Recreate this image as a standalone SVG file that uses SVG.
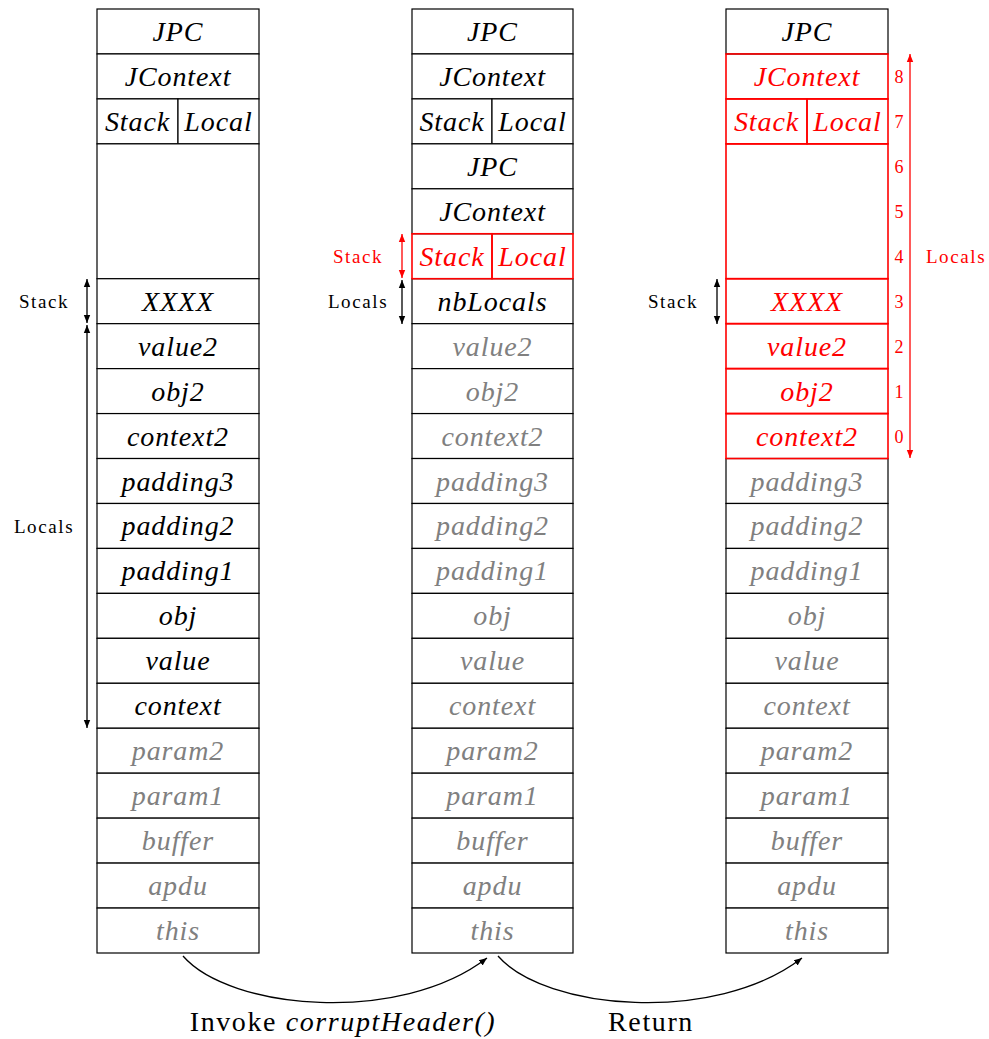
<svg xmlns="http://www.w3.org/2000/svg" width="989" height="1039" viewBox="0 0 989 1039" font-family="Liberation Serif, serif">
<defs>
<style>
.c{fill:#fff;stroke:#000;stroke-width:1.2}
.cr{fill:none;stroke:#f00;stroke-width:1.6}
.t{font-style:italic;font-size:28px;text-anchor:middle;letter-spacing:0.9px}
.k{fill:#000}.g{fill:#808080}.r{fill:#f00}
.lab{font-size:19px;text-anchor:middle;letter-spacing:1.6px}
.ak{stroke:#000;stroke-width:1.3;fill:none}
.ar{stroke:#f00;stroke-width:1.3;fill:none}
.cap{font-size:28px;text-anchor:middle;letter-spacing:1.6px;fill:#000}
</style>
<marker id="hk" viewBox="0 0 10 10" refX="10" refY="5" markerWidth="8" markerHeight="8" markerUnits="userSpaceOnUse" orient="auto-start-reverse"><path d="M0,1 L10,5 L0,9 z" fill="#000"/></marker>
<marker id="hr" viewBox="0 0 10 10" refX="10" refY="5" markerWidth="8" markerHeight="8" markerUnits="userSpaceOnUse" orient="auto-start-reverse"><path d="M0,1 L10,5 L0,9 z" fill="#f00"/></marker>
</defs>
<rect width="989" height="1039" fill="#fff"/>

<!-- Column 1 -->
<g id="col1" font-family="Liberation Serif, serif">
<g id="c1-jpc"><rect class="c" x="97" y="9" width="162" height="44.95"/><text class="t k" x="178" y="41">JPC</text></g>
<g id="c1-jcontext"><rect class="c" x="97" y="53.95" width="162" height="44.95"/><text class="t k" x="178" y="85.95">JContext</text></g>
<g id="c1-stack"><rect class="c" x="97" y="98.9" width="81" height="44.95"/><text class="t k" x="137.5" y="130.9">Stack</text></g>
<g id="c1-local"><rect class="c" x="178" y="98.9" width="81" height="44.95"/><text class="t k" x="218.5" y="130.9">Local</text></g>
<g id="c1-empty"><rect class="c" x="97" y="143.86" width="162" height="134.85"/></g>
<g id="c1-xxxx"><rect class="c" x="97" y="278.71" width="162" height="44.95"/><text class="t k" x="178" y="310.71">XXXX</text></g>
<g id="c1-value2"><rect class="c" x="97" y="323.67" width="162" height="44.95"/><text class="t k" x="178" y="355.67">value2</text></g>
<g id="c1-obj2"><rect class="c" x="97" y="368.62" width="162" height="44.95"/><text class="t k" x="178" y="400.62">obj2</text></g>
<g id="c1-context2"><rect class="c" x="97" y="413.57" width="162" height="44.95"/><text class="t k" x="178" y="445.57">context2</text></g>
<g id="c1-padding3"><rect class="c" x="97" y="458.52" width="162" height="44.95"/><text class="t k" x="178" y="490.52">padding3</text></g>
<g id="c1-padding2"><rect class="c" x="97" y="503.48" width="162" height="44.95"/><text class="t k" x="178" y="535.48">padding2</text></g>
<g id="c1-padding1"><rect class="c" x="97" y="548.43" width="162" height="44.95"/><text class="t k" x="178" y="580.43">padding1</text></g>
<g id="c1-obj"><rect class="c" x="97" y="593.38" width="162" height="44.95"/><text class="t k" x="178" y="625.38">obj</text></g>
<g id="c1-value"><rect class="c" x="97" y="638.33" width="162" height="44.95"/><text class="t k" x="178" y="670.33">value</text></g>
<g id="c1-context"><rect class="c" x="97" y="683.29" width="162" height="44.95"/><text class="t k" x="178" y="715.29">context</text></g>
<g id="c1-param2"><rect class="c" x="97" y="728.24" width="162" height="44.95"/><text class="t g" x="178" y="760.24">param2</text></g>
<g id="c1-param1"><rect class="c" x="97" y="773.19" width="162" height="44.95"/><text class="t g" x="178" y="805.19">param1</text></g>
<g id="c1-buffer"><rect class="c" x="97" y="818.14" width="162" height="44.95"/><text class="t g" x="178" y="850.14">buffer</text></g>
<g id="c1-apdu"><rect class="c" x="97" y="863.1" width="162" height="44.95"/><text class="t g" x="178" y="895.1">apdu</text></g>
<g id="c1-this"><rect class="c" x="97" y="908.05" width="162" height="44.95"/><text class="t g" x="178" y="940.05">this</text></g>
</g>

<!-- Column 2 -->
<g id="col2" font-family="Liberation Serif, serif">
<g id="c2-jpc"><rect class="c" x="412" y="9" width="161" height="44.95"/><text class="t k" x="492.5" y="41">JPC</text></g>
<g id="c2-jcontext"><rect class="c" x="412" y="53.95" width="161" height="44.95"/><text class="t k" x="492.5" y="85.95">JContext</text></g>
<g id="c2-stack"><rect class="c" x="412" y="98.9" width="80" height="44.95"/><text class="t k" x="452" y="130.9">Stack</text></g>
<g id="c2-local"><rect class="c" x="492" y="98.9" width="81" height="44.95"/><text class="t k" x="532.5" y="130.9">Local</text></g>
<g id="c2-jpc2"><rect class="c" x="412" y="143.86" width="161" height="44.95"/><text class="t k" x="492.5" y="175.86">JPC</text></g>
<g id="c2-jcontext2"><rect class="c" x="412" y="188.81" width="161" height="44.95"/><text class="t k" x="492.5" y="220.81">JContext</text></g>
<g id="c2-nblocals"><rect class="c" x="412" y="278.71" width="161" height="44.95"/><text class="t k" x="492.5" y="310.71">nbLocals</text></g>
<g id="c2-value2"><rect class="c" x="412" y="323.67" width="161" height="44.95"/><text class="t g" x="492.5" y="355.67">value2</text></g>
<g id="c2-obj2"><rect class="c" x="412" y="368.62" width="161" height="44.95"/><text class="t g" x="492.5" y="400.62">obj2</text></g>
<g id="c2-context2"><rect class="c" x="412" y="413.57" width="161" height="44.95"/><text class="t g" x="492.5" y="445.57">context2</text></g>
<g id="c2-padding3"><rect class="c" x="412" y="458.52" width="161" height="44.95"/><text class="t g" x="492.5" y="490.52">padding3</text></g>
<g id="c2-padding2"><rect class="c" x="412" y="503.48" width="161" height="44.95"/><text class="t g" x="492.5" y="535.48">padding2</text></g>
<g id="c2-padding1"><rect class="c" x="412" y="548.43" width="161" height="44.95"/><text class="t g" x="492.5" y="580.43">padding1</text></g>
<g id="c2-obj"><rect class="c" x="412" y="593.38" width="161" height="44.95"/><text class="t g" x="492.5" y="625.38">obj</text></g>
<g id="c2-value"><rect class="c" x="412" y="638.33" width="161" height="44.95"/><text class="t g" x="492.5" y="670.33">value</text></g>
<g id="c2-context"><rect class="c" x="412" y="683.29" width="161" height="44.95"/><text class="t g" x="492.5" y="715.29">context</text></g>
<g id="c2-param2"><rect class="c" x="412" y="728.24" width="161" height="44.95"/><text class="t g" x="492.5" y="760.24">param2</text></g>
<g id="c2-param1"><rect class="c" x="412" y="773.19" width="161" height="44.95"/><text class="t g" x="492.5" y="805.19">param1</text></g>
<g id="c2-buffer"><rect class="c" x="412" y="818.14" width="161" height="44.95"/><text class="t g" x="492.5" y="850.14">buffer</text></g>
<g id="c2-apdu"><rect class="c" x="412" y="863.1" width="161" height="44.95"/><text class="t g" x="492.5" y="895.1">apdu</text></g>
<g id="c2-this"><rect class="c" x="412" y="908.05" width="161" height="44.95"/><text class="t g" x="492.5" y="940.05">this</text></g>
<g id="c2-stack2"><rect class="cr" x="412" y="233.76" width="80" height="44.95"/><text class="t r" x="452" y="265.76">Stack</text></g>
<g id="c2-local2"><rect class="cr" x="492" y="233.76" width="81" height="44.95"/><text class="t r" x="532.5" y="265.76">Local</text></g>
</g>

<!-- Column 3 -->
<g id="col3" font-family="Liberation Serif, serif">
<g id="c3-jpc"><rect class="c" x="726" y="9" width="162" height="44.95"/><text class="t k" x="807" y="41">JPC</text></g>
<g id="c3-padding3"><rect class="c" x="726" y="458.52" width="162" height="44.95"/><text class="t g" x="807" y="490.52">padding3</text></g>
<g id="c3-padding2"><rect class="c" x="726" y="503.48" width="162" height="44.95"/><text class="t g" x="807" y="535.48">padding2</text></g>
<g id="c3-padding1"><rect class="c" x="726" y="548.43" width="162" height="44.95"/><text class="t g" x="807" y="580.43">padding1</text></g>
<g id="c3-obj"><rect class="c" x="726" y="593.38" width="162" height="44.95"/><text class="t g" x="807" y="625.38">obj</text></g>
<g id="c3-value"><rect class="c" x="726" y="638.33" width="162" height="44.95"/><text class="t g" x="807" y="670.33">value</text></g>
<g id="c3-context"><rect class="c" x="726" y="683.29" width="162" height="44.95"/><text class="t g" x="807" y="715.29">context</text></g>
<g id="c3-param2"><rect class="c" x="726" y="728.24" width="162" height="44.95"/><text class="t g" x="807" y="760.24">param2</text></g>
<g id="c3-param1"><rect class="c" x="726" y="773.19" width="162" height="44.95"/><text class="t g" x="807" y="805.19">param1</text></g>
<g id="c3-buffer"><rect class="c" x="726" y="818.14" width="162" height="44.95"/><text class="t g" x="807" y="850.14">buffer</text></g>
<g id="c3-apdu"><rect class="c" x="726" y="863.1" width="162" height="44.95"/><text class="t g" x="807" y="895.1">apdu</text></g>
<g id="c3-this"><rect class="c" x="726" y="908.05" width="162" height="44.95"/><text class="t g" x="807" y="940.05">this</text></g>
<g id="c3-jcontext"><rect class="cr" x="726" y="53.95" width="162" height="44.95"/><text class="t r" x="807" y="85.95">JContext</text></g>
<g id="c3-stack"><rect class="cr" x="726" y="98.9" width="81" height="44.95"/><text class="t r" x="766.5" y="130.9">Stack</text></g>
<g id="c3-local"><rect class="cr" x="807" y="98.9" width="81" height="44.95"/><text class="t r" x="847.5" y="130.9">Local</text></g>
<g id="c3-empty"><rect class="cr" x="726" y="143.86" width="162" height="134.85"/></g>
<g id="c3-xxxx"><rect class="cr" x="726" y="278.71" width="162" height="44.95"/><text class="t r" x="807" y="310.71">XXXX</text></g>
<g id="c3-value2"><rect class="cr" x="726" y="323.67" width="162" height="44.95"/><text class="t r" x="807" y="355.67">value2</text></g>
<g id="c3-obj2"><rect class="cr" x="726" y="368.62" width="162" height="44.95"/><text class="t r" x="807" y="400.62">obj2</text></g>
<g id="c3-context2"><rect class="cr" x="726" y="413.57" width="162" height="44.95"/><text class="t r" x="807" y="445.57">context2</text></g>
<g id="c3-indices" font-family="Liberation Serif, serif" font-size="18" fill="#f00" text-anchor="middle">
<text x="899" y="83">8</text><text x="899" y="128">7</text><text x="899" y="173">6</text>
<text x="899" y="218">5</text><text x="899" y="263">4</text><text x="899" y="308">3</text>
<text x="899" y="353">2</text><text x="899" y="398">1</text><text x="899" y="443">0</text>
</g>
</g>

<!-- Labels -->
<g id="labels" font-family="Liberation Serif, serif">
<text class="lab k" x="44" y="308">Stack</text>
<text class="lab k" x="44" y="533">Locals</text>
<text class="lab r" x="358" y="263">Stack</text>
<text class="lab k" x="358" y="308">Locals</text>
<text class="lab k" x="673" y="308">Stack</text>
<text class="lab r" x="956" y="263">Locals</text>
<text class="cap" x="343" y="1031">Invoke <tspan font-style="italic">corruptHeader()</tspan></text>
<text class="cap" x="651" y="1031">Return</text>
</g>

<!-- Connectors -->
<g id="connectors">
<line class="ak" x1="87" y1="279" x2="87" y2="323" marker-start="url(#hk)" marker-end="url(#hk)"/>
<line class="ak" x1="87" y1="325" x2="87" y2="728" marker-start="url(#hk)" marker-end="url(#hk)"/>
<line class="ar" x1="402" y1="234" x2="402" y2="278" marker-start="url(#hr)" marker-end="url(#hr)"/>
<line class="ak" x1="402" y1="280" x2="402" y2="324" marker-start="url(#hk)" marker-end="url(#hk)"/>
<line class="ak" x1="717" y1="279" x2="717" y2="324" marker-start="url(#hk)" marker-end="url(#hk)"/>
<line class="ar" x1="910" y1="54" x2="910" y2="458" marker-start="url(#hr)" marker-end="url(#hr)"/>
<path class="ak" d="M183,956 C230,1010 400,1025 487,958" marker-end="url(#hk)"/>
<path class="ak" d="M498,956 C545,1010 715,1025 802,958" marker-end="url(#hk)"/>
</g>
</svg>
